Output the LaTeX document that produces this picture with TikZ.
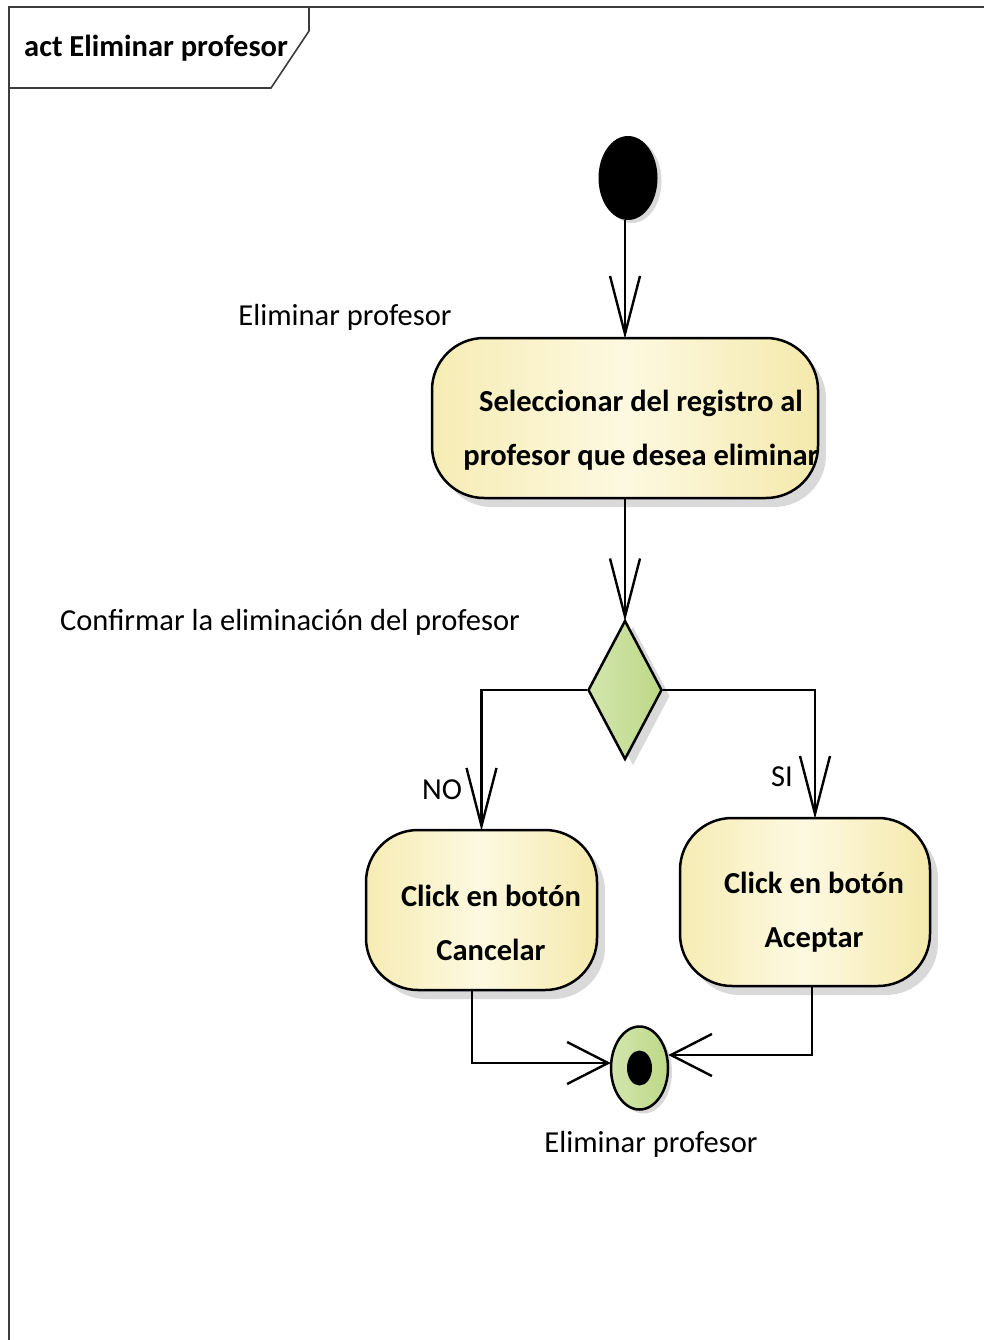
\documentclass[tikz,border=0pt]{standalone}
\usepackage{fontspec}
\setmainfont{Carlito}
\usetikzlibrary{shapes.geometric,arrows.meta,shadows,calc}
\definecolor{actL}{HTML}{F6ECB4}
\definecolor{actM}{HTML}{FDF9E1}
\definecolor{actR}{HTML}{F4E9AC}
\definecolor{decL}{HTML}{D3E6AE}
\definecolor{decR}{HTML}{BDD886}
\definecolor{framec}{HTML}{3C3C3C}
\definecolor{shadowc}{HTML}{D9D9D9}
\begin{document}
\begin{tikzpicture}[x=1pt,y=-1pt,
  txt/.style={font=\fontsize{30.5}{54}\selectfont, inner sep=0pt, text=black},
  boldtxt/.style={font=\fontsize{30.5}{54}\selectfont\bfseries, inner sep=0pt, align=center, text=black},
  actbox/.style={draw=black, line width=2.5pt, rounded corners=52pt,
    left color=actL, right color=actR, middle color=actM,
    drop shadow={shadow xshift=8pt, shadow yshift=-9pt, fill=shadowc, opacity=1},
    inner sep=0pt},
  decbox/.style={diamond, draw=black, line width=2.5pt, left color=decL, right color=decR,
    drop shadow={shadow xshift=8pt, shadow yshift=-6pt, fill=shadowc, opacity=1},
    inner sep=0pt, minimum width=74pt, minimum height=139pt},
  initnode/.style={ellipse, fill=black, inner sep=0pt, minimum width=59pt, minimum height=84pt,
    drop shadow={shadow xshift=4pt, shadow yshift=-3pt, fill=shadowc, opacity=1}},
  finnode/.style={ellipse, draw=black, line width=2.5pt, left color=decL, right color=decR,
    inner sep=0pt, minimum width=57pt, minimum height=83pt,
    drop shadow={shadow xshift=4pt, shadow yshift=-4pt, fill=shadowc, opacity=1}},
  fininner/.style={ellipse, fill=black, inner sep=0pt, minimum width=25pt, minimum height=35pt},
  flow/.style={draw=black, line width=2.4pt, shorten >=-2pt,
    -{Straight Barb[length=58pt,width=30pt,line width=2.4pt]}},
  flowh/.style={draw=black, line width=2.4pt, shorten >=-1pt,
    -{Straight Barb[length=41pt,width=42pt,line width=2.4pt]}},
  framel/.style={draw=framec, line width=1.6pt}
]
\useasboundingbox (0,0) rectangle (984,1340);
\fill[white] (0,0) rectangle (984,1340);

% frame
\draw[framel] (9,1345) -- (9,7) -- (990,7);
\draw[framel] (9,88) -- (271,88) -- (309,31) -- (309,7);
\node[boldtxt, anchor=west] (title) at (24,48) {act Eliminar profesor};

% nodes
\node[initnode] (init) at (628,178) {};
\node[actbox, minimum width=386pt, minimum height=160pt] (sel) at (625,418) {};
\node[boldtxt] (selt) at (641,430) {Seleccionar del registro al\\profesor que desea eliminar};
\node[decbox] (dec) at (625,690) {};
\node[actbox, minimum width=231pt, minimum height=160pt] (cancel) at (481.5,910) {};
\node[boldtxt] (cancelt) at (491,923) {Click en botón\\Cancelar};
\node[actbox, minimum width=250pt, minimum height=168pt] (acc) at (805,902) {};
\node[boldtxt] (acct) at (814,912) {Click en botón\\Aceptar};
\node[finnode] (fin) at (639.5,1068) {};
\node[fininner] (finin) at (fin.center) {};

% labels
\node[txt] (l1) at (345,317) {Eliminar profesor};
\node[txt] (l2) at (290,622) {Confirmar la eliminación del profesor};
\node[txt] (lno) at (442,790) {NO};
\node[txt] (lsi) at (782,777) {SI};
\node[txt] (l3) at (651,1144) {Eliminar profesor};

% flows
\draw[flow] (init.south -| sel.north) -- (sel.north);
\draw[flow] (sel.south) -- (dec.north);
\draw[flow] (dec.west) -| (cancel.north);
\draw[flow] (dec.east) -| ([xshift=10pt]acc.north);
\draw[flowh] ([xshift=-9.5pt]cancel.south) |- ([yshift=5pt]fin.west);
\draw[flowh] ([xshift=7pt]acc.south) |- ([yshift=13pt]fin.east);
\end{tikzpicture}
\end{document}
